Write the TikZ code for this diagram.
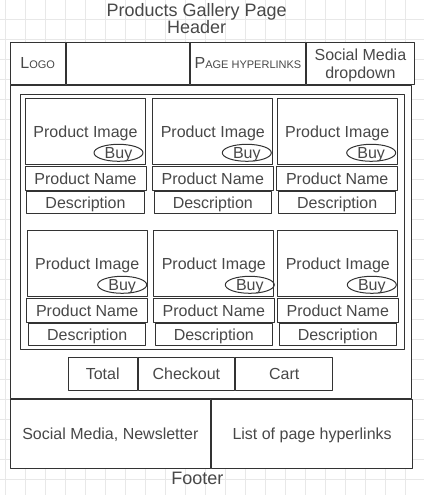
\documentclass[tikz,border=0pt]{standalone}
\usepackage{fontspec}
\setmainfont{Liberation Sans}
\usetikzlibrary{positioning,shapes.geometric}
\definecolor{linegray}{RGB}{51,51,51}
\definecolor{textgray}{RGB}{72,72,72}
\definecolor{gridgray}{RGB}{232,232,232}
\newcommand{\fakesc}[2]{#1{\fontsize{11}{11}\selectfont #2}}

\begin{document}
\begin{tikzpicture}[x=1pt, y=-1pt, line width=1pt, line join=round,
    gridline/.style={draw=gridgray, line width=0.8pt},
    cell/.style={draw=linegray, fill=white, text=textgray, inner sep=0pt,
      font=\fontsize{16}{19}\selectfont, text height=11.5pt, text depth=0pt},
    twoline/.style={draw=linegray, fill=white, text=textgray, inner sep=0pt,
      font=\fontsize{16}{18.3}\selectfont, align=center},
    imgbox/.style={cell, minimum width=120pt, minimum height=66pt},
    namebox/.style={cell, minimum width=121pt, minimum height=24pt},
    descbox/.style={cell, minimum width=117.5pt, minimum height=22pt},
    buybtn/.style={ellipse, draw=linegray, text=textgray, inner sep=0pt,
      minimum width=49pt, minimum height=17pt,
      font=\fontsize{16}{19}\selectfont, text height=11.5pt, text depth=0pt},
    btn/.style={cell, minimum height=33.4pt},
    label/.style={text=textgray, inner sep=0pt, align=center, font=\fontsize{18}{17}\selectfont}]
  \useasboundingbox (0,0) rectangle (424,495);
  % background grid
  \foreach \gx in {5.5,25.5,...,405.5} \draw[gridline] (\gx,0) -- (\gx,495);
  \foreach \gy in {19.5,39.5,...,479.5} \draw[gridline] (0,\gy) -- (424,\gy);

  \node[label] (pagetitle) at (196.7,18.6) {Products Gallery Page\\Header};

  % header row
  \node[cell, minimum width=55.3pt, minimum height=41.5pt] (logo) at (37.65,63.25) {\fakesc{L}{OGO}};
  \node[cell, minimum width=123.4pt, minimum height=41.5pt, right=0pt of logo] (hdrgap) {};
  \node[cell, minimum width=114.6pt, minimum height=41.5pt, right=0pt of hdrgap] (links) {\fakesc{P}{AGE HYPERLINKS}};
  \node[twoline, minimum width=108.2pt, minimum height=41.5pt, right=0pt of links] (socialmenu) {\rule{0pt}{15.5pt}Social Media\\dropdown};

  % page body and gallery
  \node[cell, minimum width=401.5pt, minimum height=313pt, anchor=north west] (body) at (logo.south west) {};
  \node[cell, minimum width=384pt, minimum height=255pt, anchor=north west] (gallery) at (20,94) {};
  \foreach \px/\py/\bx [count=\i] in {25/98.3/33, 152.3/98.3/34, 276.7/98.3/34,
      26.7/230.3/35, 153.3/230.3/36, 277.3/230.3/34} {
    \node[imgbox, anchor=north west] (img\i) at (\px,\py) {Product Image};
    \node[namebox, below=1pt of img\i] (name\i) {Product Name};
    \node[descbox, below=0pt of name\i] (desc\i) {Description};
    \node[buybtn] (buy\i) at ([xshift=\bx pt, yshift=12.5pt]img\i.south) {Buy};
  }

  % cart buttons
  \node[btn, minimum width=68.7pt] (total) at (102.65,374) {Total};
  \node[btn, minimum width=96.7pt, right=0pt of total] (checkout) {Checkout};
  \node[btn, minimum width=97pt, right=0pt of checkout] (cart) {Cart};

  % footer row
  \node[cell, minimum width=200.7pt, minimum height=69pt, anchor=north west] (newsletter) at (body.south west) {Social Media, Newsletter};
  \node[cell, minimum width=200.8pt, minimum height=69pt, right=0pt of newsletter] (pagelinks) {List of page hyperlinks};
  \node[label, text height=12.9pt, text depth=0pt] (footerlabel) at (197.3,478.3) {Footer};
\end{tikzpicture}
\end{document}
